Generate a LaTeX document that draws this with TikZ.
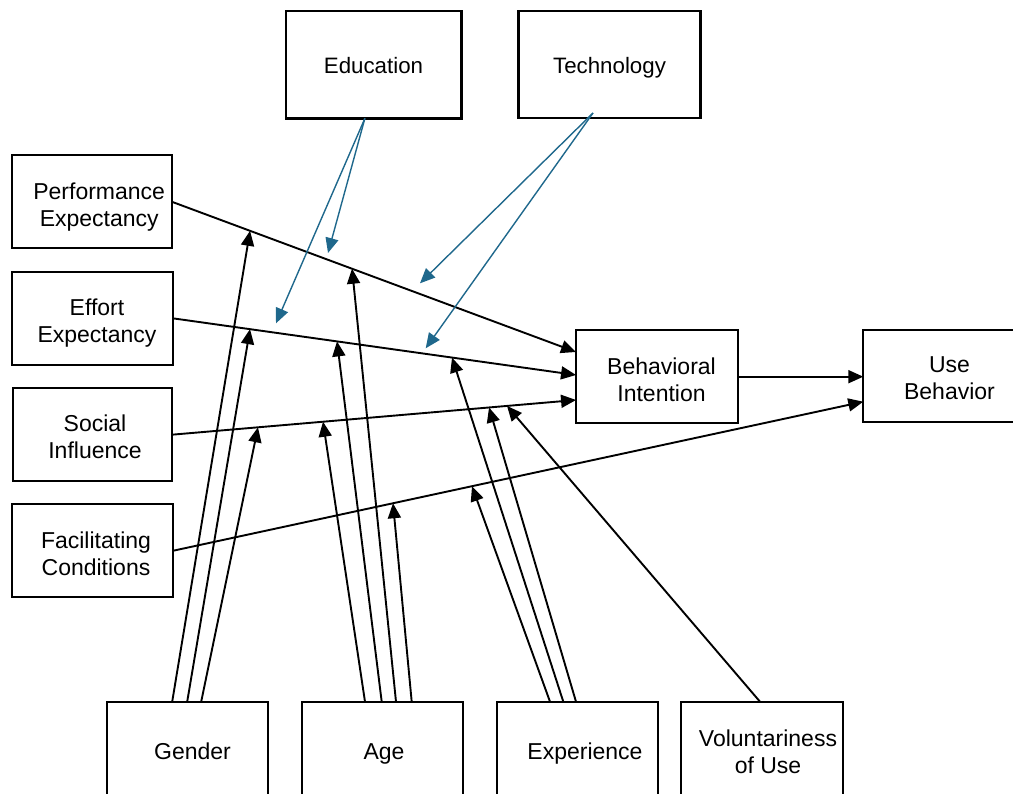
\documentclass[tikz,border=0pt]{standalone}
\usepackage{fontspec}
\setmainfont{Liberation Sans}
\usetikzlibrary{arrows.meta}
\definecolor{modblue}{RGB}{31,104,140}
\begin{document}
\begin{tikzpicture}[x=1pt,y=-1pt,
  box/.style={draw, line width=2pt, inner sep=0pt, outer sep=0pt},
  topbox/.style={draw, line width=2.8pt, inner sep=0pt, outer sep=0pt},
  txt/.style={font=\fontsize{23}{27}\selectfont, align=center, inner sep=0pt},
  toptxt/.style={font=\fontsize{22.3}{27}\selectfont, align=center, inner sep=0pt},
  conn/.style={line width=1.9pt, -{Triangle[length=15pt,width=13pt]}},
  modarrow/.style={modblue, line width=1.4pt, -{Triangle[length=15pt,width=13pt]}}]
\useasboundingbox (0,0) rectangle (1013,794);
% boxes
\node[topbox, minimum width=175.7pt, minimum height=107.3pt] (edu) at (373.9,64.7) {};
\node[topbox, minimum width=182.4pt, minimum height=107pt] (tech) at (609.5,64.5) {};
\node[box, minimum width=160pt, minimum height=93.3pt] (pe) at (91.7,201.7) {};
\node[box, minimum width=161pt, minimum height=93.3pt] (ee) at (92.2,318.3) {};
\node[box, minimum width=159.3pt, minimum height=92.7pt] (si) at (92.3,434.7) {};
\node[box, minimum width=161.6pt, minimum height=93.3pt] (fc) at (92.5,550.7) {};
\node[box, minimum width=162.3pt, minimum height=93.3pt] (bi) at (657.2,376.7) {};
\node[box, minimum width=162pt, minimum height=91.7pt] (ub) at (944.3,375.8) {};
\node[box, minimum width=161pt, minimum height=96pt] (gen) at (187.2,749.7) {};
\node[box, minimum width=161.6pt, minimum height=96pt] (age) at (382.5,749.7) {};
\node[box, minimum width=161.6pt, minimum height=96pt] (exp) at (577.5,749.7) {};
\node[box, minimum width=162pt, minimum height=96pt] (vol) at (761.7,749.7) {};
% texts
\node[toptxt] (edut) at (373.5,65.5) {Education};
\node[toptxt] (techt) at (609.5,67.6) {Technology};
\node[txt] (pet) at (99.2,206.8) {Performance\\Expectancy};
\node[txt] (eet) at (97,323.5) {Effort\\Expectancy};
\node[txt] (sit) at (95,436.3) {Social\\Influence};
\node[txt] (fct) at (96,553.3) {Facilitating\\Conditions};
\node[txt] (bit) at (661.5,379.3) {Behavioral\\Intention};
\node[txt] (ubt) at (949.5,378.6) {Use\\Behavior};
\node[txt] (gent) at (192.5,751.7) {Gender};
\node[txt] (aget) at (384,754) {Age};
\node[txt] (expt) at (585,754) {Experience};
\node[txt] (volt) at (768,751.3) {Voluntariness\\of Use};
% main connectors
\draw[conn] (pe.east) -- ([yshift=24.7pt]bi.west)
  coordinate[pos=0.1937] (g1) coordinate[pos=0.446] (a3);
\draw[conn] (ee.east) -- ([yshift=1.7pt]bi.west)
  coordinate[pos=0.1917] (g2) coordinate[pos=0.4074] (a2) coordinate[pos=0.6925] (e2);
\draw[conn] (si.east) -- ([yshift=-23.3pt]bi.west)
  coordinate[pos=0.2129] (g3) coordinate[pos=0.3738] (a1) coordinate[pos=0.7847] (e3) coordinate[pos=0.8292] (v1);
\draw[conn] (fc.east) -- ([yshift=-25.9pt]ub.west)
  coordinate[pos=0.3184] (a4) coordinate[pos=0.4329] (e1);
\draw[conn] (bi.east) -- (bi.east -| ub.west);
% moderators
\draw[conn] ([xshift=-15pt]gen.north) -- (g1);
\draw[conn] ([xshift=0pt]gen.north) -- (g2);
\draw[conn] ([xshift=14pt]gen.north) -- (g3);
\draw[conn] ([xshift=-17.5pt]age.north) -- (a1);
\draw[conn] ([xshift=-0.8pt]age.north) -- (a2);
\draw[conn] ([xshift=13.5pt]age.north) -- (a3);
\draw[conn] ([xshift=29.2pt]age.north) -- (a4);
\draw[conn] ([xshift=-27.5pt]exp.north) -- (e1);
\draw[conn] ([xshift=-14.2pt]exp.north) -- (e2);
\draw[conn] ([xshift=-1.5pt]exp.north) -- (e3);
\draw[conn] ([xshift=-1.7pt]vol.north) -- (v1);
% blue moderator arrows
\coordinate (eb1) at (328,253);
\coordinate (eb2) at (276,323.3);
\coordinate (tb1) at (420,283.3);
\coordinate (tb2) at (425.7,348.3);
\draw[modarrow] ([xshift=-9pt]edu.south) -- (eb1);
\draw[modarrow] ([xshift=-9pt]edu.south) -- (eb2);
\draw[modarrow] ([xshift=-16.5pt,yshift=5pt]tech.south) -- (tb1);
\draw[modarrow] ([xshift=-16.5pt,yshift=5pt]tech.south) -- (tb2);
\end{tikzpicture}
\end{document}
